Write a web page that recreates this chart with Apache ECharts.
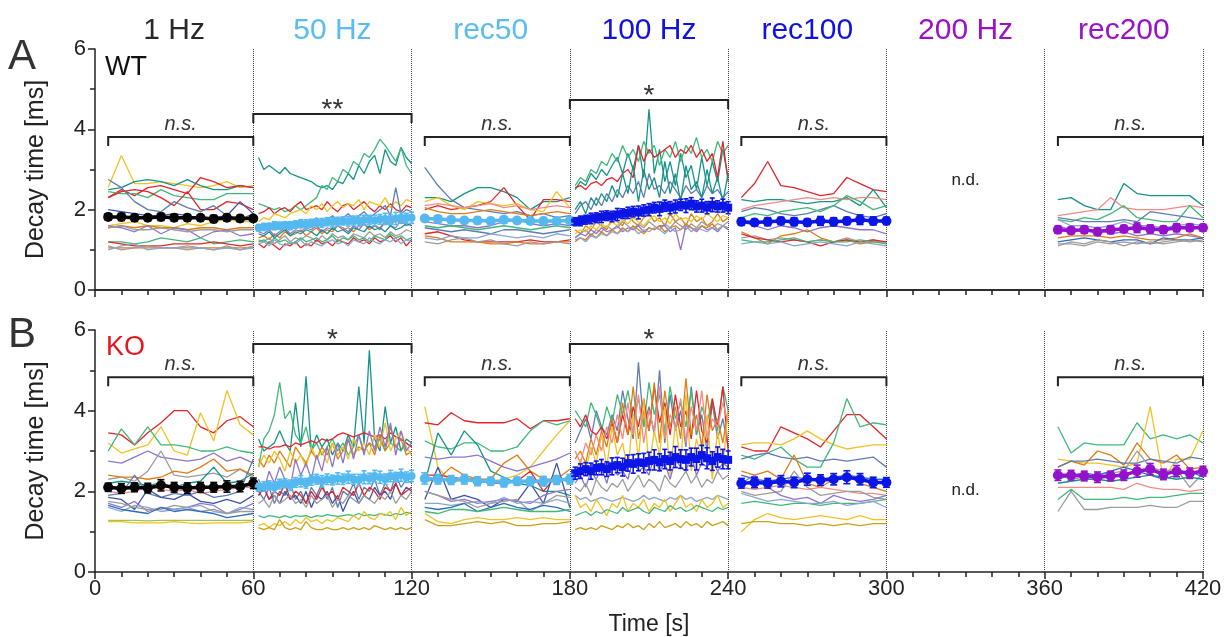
<!DOCTYPE html>
<html lang="en">
<head>
  <meta charset="UTF-8">
  <title>Decay time WT / KO</title>
  <script src="https://cdn.jsdelivr.net/npm/echarts@6/dist/echarts.min.js"></script>
  <style>
    html, body { margin: 0; padding: 0; background: #fff; }
    #chart { width: 1230px; height: 637px; }
  </style>
</head>
<body>
<div id="chart"></div>
<script>
// ---- time grids (s, relative to segment start) ----
const sparseT = [5, 10, 15, 20, 25, 30, 35, 40, 45, 50, 55, 60];
const denseT = [2, 4, 6, 8, 10, 12, 14, 16, 18, 20, 22, 24, 26, 28, 30, 32, 34, 36, 38, 40, 42, 44, 46, 48, 50, 52, 54, 56, 58, 60];

// headers over the segments
const headers = ['1 Hz', '50 Hz', 'rec50', '100 Hz', 'rec100', '200 Hz', 'rec200'];
const headerColors = ['#2a2a2a', '#5bbcf2', '#5bbcf2', '#1212e0', '#1212e0', '#9a12c8', '#9a12c8'];

// ---------- WT ----------
const wt1Hz = [
  [2.55, 3.35, 2.65, 2.65, 2.7, 2.65, 2.6, 2.55, 2.6, 2.7, 2.55, 2.6],
  [2.5, 2.55, 2.7, 2.75, 2.7, 2.6, 2.75, 2.6, 2.5, 2.5, 2.6, 2.55],
  [2.3, 2.5, 2.35, 2.55, 2.6, 2.5, 2.4, 2.8, 2.7, 2.55, 2.6, 2.55],
  [2.45, 2.4, 2.4, 2.3, 2.5, 2.35, 2.3, 2.25, 2.25, 2.4, 2.4, 2.4],
  [2.3, 2.45, 2.5, 2.45, 2.3, 2.1, 2.45, 2.0, 2.0, 2.2, 2.15, 2.0],
  [2.75, 2.55, 2.2, 2.0, 1.95, 2.2, 2.05, 1.95, 2.1, 1.85, 1.75, 1.9],
  [2.0, 1.95, 1.9, 1.85, 1.85, 1.9, 1.85, 1.75, 1.8, 1.85, 2.2, 1.9],
  [1.6, 1.65, 1.7, 1.6, 1.6, 1.55, 1.65, 1.6, 1.7, 1.75, 1.7, 1.7],
  [1.55, 1.6, 1.55, 1.6, 1.55, 1.55, 1.5, 1.55, 1.55, 1.5, 1.55, 1.55],
  [1.6, 1.55, 1.45, 1.6, 1.4, 1.55, 1.5, 1.3, 1.45, 1.5, 1.35, 1.4],
  [1.55, 1.6, 1.5, 1.5, 1.55, 1.5, 1.45, 1.5, 1.5, 1.45, 1.5, 1.5],
  [1.2, 1.2, 1.15, 1.2, 1.3, 1.25, 1.2, 1.3, 1.15, 1.2, 1.25, 1.2],
  [1.2, 1.15, 1.1, 1.1, 1.1, 1.15, 1.15, 1.15, 1.2, 1.15, 1.1, 1.15],
  [1.05, 1.05, 1.05, 1.05, 1.05, 1.05, 1.05, 1.05, 1.05, 1.05, 1.05, 1.05],
  [1.1, 1.0, 1.05, 1.1, 1.05, 1.05, 1.0, 1.05, 1.0, 1.1, 1.0, 1.1],
  [1.0, 1.1, 1.15, 1.0, 1.05, 1.05, 1.1, 1.05, 1.0, 1.05, 1.0, 1.05]
];
const wt1HzColors = ['yellow', 'teal', 'red', 'green', 'red', 'slate', 'navy', 'yellow', 'orange', 'purple', 'grey', 'green', 'red', 'orange', 'grey', 'steel'];
const wtMean1Hz = [1.82, 1.82, 1.8, 1.8, 1.82, 1.8, 1.8, 1.8, 1.77, 1.8, 1.78, 1.78];
const wtSem1Hz = [0.08, 0.09, 0.08, 0.07, 0.09, 0.08, 0.08, 0.07, 0.09, 0.08, 0.08, 0.07];

const wt50Hz = [
  [3.3, 3.0, 3.1, 3.0, 2.9, 3.05, 2.9, 2.85, 2.8, 2.75, 2.7, 2.6, 2.55, 2.6, 2.5, 2.7, 2.65, 2.9, 2.75, 3.1, 2.9, 3.2, 3.35, 2.9, 3.5, 3.2, 3.1, 3.55, 3.3, 3.15],
  [2.15, 2.1, 2.05, 2.0, 2.05, 1.95, 2.0, 2.1, 2.0, 2.1, 2.2, 2.3, 2.6, 2.5, 2.8, 2.7, 3.0, 2.9, 3.2, 3.1, 3.4, 3.3, 3.5, 3.75, 3.6, 3.4, 3.2, 3.55, 3.1, 2.9],
  [1.9, 1.95, 2.05, 1.9, 2.0, 2.05, 1.95, 2.1, 2.2, 2.0, 2.05, 2.1, 2.0, 2.2, 2.05, 1.95, 2.1, 2.15, 2.0, 2.1, 2.2, 2.05, 1.95, 2.1, 2.0, 2.15, 2.0, 1.95, 2.1, 2.05],
  [1.7, 1.8, 1.75, 1.9, 1.85, 1.8, 1.9, 1.95, 2.0, 1.9, 2.1, 2.0, 2.15, 1.95, 2.1, 2.2, 2.05, 2.15, 2.1, 2.25, 2.0, 2.2, 2.15, 2.1, 2.3, 2.05, 2.2, 2.1, 2.25, 2.2],
  [1.55, 1.6, 1.5, 1.65, 1.6, 1.7, 1.55, 1.65, 1.75, 1.6, 1.7, 1.8, 1.65, 1.75, 1.85, 1.7, 1.8, 1.9, 1.75, 1.85, 1.95, 1.8, 1.9, 2.0, 2.1, 1.85, 2.55, 1.9, 2.0, 1.95],
  [1.3, 1.35, 1.25, 1.4, 1.3, 1.45, 1.35, 1.4, 1.5, 1.35, 1.45, 1.55, 1.4, 1.5, 1.45, 1.6, 1.5, 1.55, 1.45, 1.6, 1.65, 1.5, 1.6, 1.55, 1.7, 1.6, 1.75, 1.65, 1.7, 1.85],
  [1.45, 1.4, 1.5, 1.35, 1.45, 1.55, 1.4, 1.5, 1.45, 1.55, 1.5, 1.6, 1.45, 1.55, 1.5, 1.6, 1.55, 1.45, 1.6, 1.5, 1.65, 1.55, 1.6, 1.5, 1.7, 1.6, 1.55, 1.75, 1.6, 1.65],
  [1.25, 1.2, 1.3, 1.15, 1.25, 1.35, 1.2, 1.3, 1.25, 1.35, 1.3, 1.2, 1.35, 1.25, 1.4, 1.3, 1.35, 1.25, 1.4, 1.35, 1.3, 1.45, 1.35, 1.4, 1.3, 1.45, 1.35, 1.4, 1.5, 1.45],
  [1.15, 1.05, 1.2, 1.1, 1.0, 1.15, 1.1, 1.2, 1.05, 1.15, 1.1, 1.25, 1.15, 1.2, 1.1, 1.25, 1.2, 1.15, 1.3, 1.2, 1.25, 1.15, 1.3, 1.2, 1.25, 1.35, 1.2, 1.3, 1.1, 1.25],
  [1.2, 1.25, 1.15, 1.3, 1.2, 1.25, 1.15, 1.2, 1.3, 1.2, 1.25, 1.3, 1.2, 1.25, 1.35, 1.2, 1.3, 1.25, 1.35, 1.25, 1.3, 1.2, 1.35, 1.3, 1.25, 1.4, 1.3, 1.35, 1.25, 1.3],
  [1.15, 1.2, 1.1, 1.25, 1.15, 1.1, 1.2, 1.15, 1.25, 1.1, 1.2, 1.15, 1.1, 1.2, 1.25, 1.15, 1.2, 1.1, 1.25, 1.2, 1.15, 1.3, 1.2, 1.15, 1.25, 1.2, 1.3, 1.15, 1.25, 1.2],
  [1.4, 1.35, 1.45, 1.3, 1.4, 1.5, 1.35, 1.45, 1.4, 1.5, 1.45, 1.35, 1.5, 1.4, 1.55, 1.45, 1.5, 1.4, 1.55, 1.5, 1.45, 1.6, 1.5, 1.55, 1.45, 1.6, 1.5, 1.55, 1.65, 1.6]
];
const wt50HzColors = ['teal', 'green', 'red', 'yellow', 'slate', 'orange', 'purple', 'grey', 'red', 'green', 'steel', 'teal'];
const wtMean50Hz = [1.55, 1.57, 1.58, 1.6, 1.6, 1.62, 1.6, 1.63, 1.65, 1.64, 1.66, 1.68, 1.67, 1.7, 1.69, 1.7, 1.72, 1.71, 1.73, 1.72, 1.74, 1.75, 1.73, 1.76, 1.77, 1.75, 1.78, 1.8, 1.79, 1.8];
const wtSem50Hz = [0.08, 0.09, 0.08, 0.1, 0.09, 0.08, 0.1, 0.09, 0.1, 0.11, 0.1, 0.09, 0.11, 0.1, 0.12, 0.11, 0.1, 0.12, 0.11, 0.13, 0.12, 0.11, 0.13, 0.12, 0.14, 0.12, 0.15, 0.13, 0.12, 0.14];

const wtRec50 = [
  [3.05, 2.6, 2.25, 2.05, 2.0, 1.95, 1.9, 1.95, 1.85, 1.9, 1.8, 1.85],
  [2.3, 2.3, 2.2, 2.4, 2.55, 2.55, 2.45, 2.3, 2.0, 2.2, 2.2, 2.3],
  [2.0, 2.1, 2.0, 2.05, 2.1, 2.2, 2.55, 2.1, 1.75, 2.25, 2.25, 2.2],
  [2.2, 2.3, 2.1, 2.0, 2.2, 2.15, 2.1, 2.15, 2.0, 1.95, 2.45, 2.05],
  [2.1, 2.15, 2.1, 2.05, 2.1, 2.15, 2.05, 2.1, 2.0, 2.05, 2.1, 2.05],
  [2.05, 1.95, 1.9, 1.9, 1.95, 2.0, 1.95, 1.9, 1.85, 1.9, 1.95, 1.9],
  [1.7, 1.65, 1.6, 1.6, 1.55, 1.6, 1.7, 1.75, 1.65, 1.6, 1.65, 1.6],
  [1.6, 1.55, 1.6, 1.55, 1.5, 1.55, 1.6, 1.55, 1.5, 1.55, 1.6, 1.55],
  [1.55, 1.5, 1.45, 1.5, 1.45, 1.4, 1.5, 1.5, 1.45, 1.4, 1.45, 1.5],
  [1.4, 1.45, 1.35, 1.25, 1.2, 1.2, 1.2, 1.2, 1.25, 1.2, 1.2, 1.25],
  [1.35, 1.3, 1.2, 1.2, 1.2, 1.15, 1.15, 1.2, 1.15, 1.15, 1.2, 1.2],
  [1.2, 1.15, 1.25, 1.3, 1.2, 1.25, 1.15, 1.1, 1.2, 1.15, 1.2, 1.15],
  [1.3, 1.25, 1.35, 1.3, 1.3, 1.4, 1.35, 1.3, 1.35, 1.3, 1.4, 1.35]
];
const wtRec50Colors = ['slate', 'teal', 'red', 'yellow', 'pink', 'orange', 'purple', 'green', 'slate', 'red', 'orange', 'grey', 'steel'];
const wtMeanRec50 = [1.78, 1.77, 1.75, 1.73, 1.73, 1.72, 1.75, 1.73, 1.72, 1.72, 1.72, 1.73];
const wtSemRec50 = [0.07, 0.08, 0.07, 0.07, 0.08, 0.07, 0.08, 0.07, 0.07, 0.08, 0.07, 0.07];

const wt100Hz = [
  [2.5, 2.7, 2.6, 2.9, 2.75, 3.0, 2.85, 3.1, 3.3, 2.9, 3.4, 3.0, 3.6, 2.8, 4.5, 2.9, 3.5, 2.7, 3.2, 2.6, 3.4, 2.8, 3.1, 2.5, 3.3, 2.6, 3.2, 2.7, 3.5, 2.8],
  [2.6, 2.8, 2.7, 3.0, 2.9, 3.2, 3.1, 3.4, 3.2, 3.6, 3.3, 3.5, 3.2, 3.7, 3.4, 3.6, 3.1, 3.5, 3.3, 3.7, 3.2, 3.6, 3.4, 3.8, 3.3, 3.5, 3.2, 3.7, 3.4, 3.6],
  [2.55, 2.6, 2.5, 2.65, 2.7, 2.6, 2.75, 2.8, 2.7, 2.9, 3.0, 2.8, 3.6, 3.2, 3.5, 3.3, 3.4, 3.5, 3.6, 3.3, 3.5, 3.4, 3.6, 3.3, 3.5, 3.2, 3.4, 2.8, 3.7, 2.7],
  [1.9, 2.1, 2.2, 2.0, 2.3, 2.1, 2.4, 2.2, 2.5, 2.3, 2.6, 2.4, 2.7, 2.3, 2.9, 2.5, 2.6, 2.4, 2.7, 2.5, 2.3, 2.6, 2.4, 2.5, 2.3, 2.6, 2.4, 2.5, 2.3, 2.45],
  [2.0, 2.2, 1.9, 2.3, 2.1, 2.4, 2.2, 2.6, 2.3, 2.9, 2.4, 3.1, 2.2, 3.0, 2.5, 2.8, 2.3, 3.2, 2.4, 2.9, 2.2, 3.1, 2.5, 2.7, 2.3, 3.0, 2.4, 2.8, 2.2, 2.9],
  [1.5, 1.4, 1.6, 1.5, 1.7, 1.6, 1.5, 1.8, 1.7, 1.6, 1.9, 1.7, 1.6, 1.8, 1.9, 1.7, 1.8, 1.6, 1.9, 1.7, 1.8, 1.6, 1.9, 1.7, 1.8, 1.6, 1.7, 1.9, 1.7, 1.8],
  [1.3, 1.4, 1.5, 1.35, 1.5, 1.45, 1.6, 1.5, 1.55, 1.7, 1.6, 1.5, 1.65, 1.55, 1.7, 1.6, 1.5, 1.65, 1.55, 1.7, 1.6, 1.5, 1.65, 1.55, 1.7, 1.6, 1.55, 1.65, 1.6, 1.7],
  [1.3, 1.4, 1.35, 1.5, 1.4, 1.55, 1.45, 1.5, 1.6, 1.45, 1.55, 1.5, 1.6, 1.45, 1.55, 1.5, 1.6, 1.6, 1.45, 1.55, 1.0, 1.6, 1.55, 1.45, 1.6, 1.5, 1.55, 1.45, 1.6, 1.5],
  [1.4, 1.5, 1.45, 1.6, 1.5, 1.65, 1.55, 1.7, 1.6, 1.75, 1.65, 1.8, 1.7, 1.6, 1.75, 1.85, 1.7, 1.8, 1.65, 1.9, 1.75, 1.8, 1.7, 1.85, 1.75, 1.9, 1.8, 1.7, 1.85, 1.8],
  [1.2, 1.3, 1.25, 1.4, 1.3, 1.45, 1.35, 1.5, 1.4, 1.55, 1.45, 1.6, 1.5, 1.4, 1.55, 1.5, 1.6, 1.45, 1.55, 1.6, 1.5, 1.65, 1.55, 1.5, 1.6, 1.55, 1.65, 1.5, 1.6, 1.55],
  [1.25, 1.3, 1.2, 1.35, 1.3, 1.4, 1.35, 1.45, 1.4, 1.5, 1.45, 1.55, 1.4, 1.5, 1.45, 1.55, 1.5, 1.4, 1.55, 1.45, 1.5, 1.6, 1.45, 1.55, 1.5, 1.45, 1.55, 1.5, 1.6, 1.55]
];
const wt100HzColors = ['teal', 'green', 'red', 'slate', 'teal', 'orange', 'grey', 'purple', 'yellow', 'orange', 'steel'];
const wtMean100Hz = [1.7, 1.72, 1.75, 1.78, 1.8, 1.82, 1.85, 1.83, 1.88, 1.9, 1.92, 1.95, 1.93, 1.98, 2.0, 2.05, 2.02, 2.1, 2.05, 2.08, 2.12, 2.1, 2.15, 2.08, 2.1, 2.05, 2.12, 2.08, 2.1, 2.05];
const wtSem100Hz = [0.1, 0.12, 0.11, 0.13, 0.12, 0.14, 0.12, 0.13, 0.15, 0.12, 0.14, 0.13, 0.16, 0.14, 0.15, 0.13, 0.17, 0.14, 0.15, 0.16, 0.14, 0.17, 0.15, 0.14, 0.16, 0.15, 0.17, 0.14, 0.16, 0.15];

const wtRec100 = [
  [2.3, 2.65, 3.2, 2.6, 2.55, 2.45, 2.35, 2.4, 2.8, 2.65, 2.5, 2.45],
  [2.25, 2.2, 2.25, 2.25, 2.2, 2.15, 2.2, 2.2, 2.3, 2.1, 2.5, 2.05],
  [2.0, 2.1, 2.15, 2.2, 2.25, 2.3, 2.25, 2.3, 2.25, 2.3, 2.3, 2.25],
  [1.95, 2.05, 2.0, 1.9, 1.85, 1.9, 2.0, 2.1, 1.95, 1.85, 1.8, 1.9],
  [1.8, 1.9, 1.85, 1.95, 2.0, 2.05, 1.95, 2.1, 2.35, 2.2, 2.0, 2.1],
  [1.7, 1.6, 1.5, 1.6, 1.55, 1.45, 1.55, 1.6, 1.55, 1.5, 1.5, 1.4],
  [1.45, 1.3, 1.15, 1.35, 1.4, 1.5, 1.3, 1.2, 1.25, 1.15, 1.2, 1.2],
  [1.3, 1.35, 1.25, 1.3, 1.25, 1.2, 1.25, 1.2, 1.3, 1.2, 1.25, 1.15],
  [1.4, 1.3, 1.25, 1.2, 1.25, 1.2, 1.1, 1.2, 1.25, 1.2, 1.25, 1.2],
  [1.25, 1.2, 1.2, 1.25, 1.3, 1.2, 1.25, 1.2, 1.2, 1.25, 1.2, 1.15],
  [1.15, 1.2, 1.15, 1.2, 1.1, 1.15, 1.2, 1.15, 1.1, 1.2, 1.15, 1.1]
];
const wtRec100Colors = ['red', 'teal', 'pink', 'slate', 'green', 'purple', 'orange', 'grey', 'red', 'green', 'steel'];
const wtMeanRec100 = [1.7, 1.68, 1.7, 1.72, 1.7, 1.68, 1.72, 1.7, 1.72, 1.75, 1.72, 1.72];
const wtSemRec100 = [0.09, 0.08, 0.1, 0.09, 0.1, 0.09, 0.11, 0.1, 0.09, 0.12, 0.1, 0.09];

const wtRec200 = [
  [2.25, 2.3, 2.1, 2.0, 2.0, 2.65, 2.4, 2.35, 2.35, 2.35, 2.35, 2.1],
  [1.85, 1.9, 1.95, 2.0, 2.3, 2.05, 2.0, 2.0, 2.0, 2.05, 2.1, 2.05],
  [1.75, 1.7, 1.8, 1.75, 1.9, 2.1, 1.8, 1.75, 1.7, 1.7, 2.1, 1.8],
  [1.8, 1.75, 1.7, 1.7, 1.7, 1.75, 1.7, 1.95, 1.9, 1.85, 1.8, 1.75],
  [1.75, 1.6, 1.6, 1.55, 1.6, 1.7, 1.6, 1.6, 1.55, 1.6, 1.65, 1.6],
  [1.6, 1.5, 1.45, 1.5, 1.4, 1.45, 1.35, 1.4, 1.35, 1.4, 1.35, 1.3],
  [1.3, 1.35, 1.35, 1.35, 1.3, 1.35, 1.3, 1.25, 1.25, 1.3, 1.4, 1.3],
  [1.2, 1.25, 1.3, 1.25, 1.2, 1.25, 1.25, 1.15, 1.3, 1.25, 1.25, 1.3],
  [1.1, 1.2, 1.15, 1.25, 1.2, 1.1, 1.2, 1.15, 1.2, 1.25, 1.2, 1.25],
  [1.15, 1.15, 1.1, 1.2, 1.15, 1.2, 1.15, 1.2, 1.15, 1.2, 1.25, 1.2]
];
const wtRec200Colors = ['teal', 'pink', 'green', 'slate', 'steel', 'purple', 'orange', 'blue', 'grey', 'grey'];
const wtMeanRec200 = [1.5, 1.48, 1.5, 1.45, 1.5, 1.52, 1.55, 1.52, 1.5, 1.55, 1.55, 1.55];
const wtSemRec200 = [0.09, 0.08, 0.09, 0.08, 0.1, 0.09, 0.12, 0.1, 0.09, 0.1, 0.09, 0.08];

// ---------- KO ----------
const ko1Hz = [
  [3.45, 3.4, 3.15, 3.45, 3.7, 4.0, 4.0, 3.6, 3.45, 3.75, 3.85, 3.6],
  [3.2, 2.95, 3.05, 3.15, 3.6, 3.0, 2.9, 3.95, 3.25, 4.5, 3.65, 3.4],
  [3.0, 3.55, 3.15, 3.6, 3.15, 3.15, 3.1, 3.0, 3.0, 3.1, 3.0, 2.95],
  [2.75, 2.7, 2.85, 3.0, 2.85, 2.8, 2.75, 2.8, 2.95, 2.75, 2.85, 2.7],
  [2.3, 2.35, 2.25, 2.5, 3.0, 2.4, 2.35, 2.4, 2.45, 2.35, 2.55, 2.35],
  [2.4, 2.35, 2.35, 2.3, 2.35, 2.5, 2.45, 2.6, 2.8, 2.5, 2.55, 2.4],
  [2.2, 2.25, 2.2, 2.15, 2.2, 2.1, 2.2, 2.25, 2.6, 2.2, 2.25, 2.45],
  [2.0, 1.95, 2.0, 2.1, 2.05, 2.0, 2.05, 1.95, 2.0, 2.05, 2.1, 2.1],
  [1.9, 1.95, 2.4, 1.95, 1.85, 1.95, 1.9, 2.0, 1.85, 1.9, 2.0, 2.8],
  [1.85, 1.8, 1.55, 2.05, 1.85, 1.8, 1.95, 1.75, 1.7, 1.8, 1.7, 1.9],
  [1.7, 1.6, 1.75, 1.5, 1.6, 1.55, 1.6, 1.7, 1.65, 1.45, 1.55, 1.7],
  [1.6, 1.5, 1.65, 1.6, 1.5, 1.55, 1.6, 1.65, 1.5, 1.45, 1.6, 1.55],
  [1.75, 1.7, 1.6, 1.55, 1.55, 1.65, 1.6, 1.5, 1.55, 1.45, 1.5, 1.5],
  [1.65, 1.55, 1.5, 1.45, 1.6, 1.5, 1.55, 1.5, 1.45, 1.35, 1.4, 1.45],
  [1.28, 1.28, 1.28, 1.27, 1.28, 1.28, 1.28, 1.28, 1.28, 1.28, 1.28, 1.28],
  [1.25, 1.25, 1.22, 1.22, 1.22, 1.25, 1.22, 1.2, 1.22, 1.22, 1.22, 1.25]
];
const ko1HzColors = ['red', 'yellow', 'green', 'purple', 'grey', 'orange', 'teal', 'pink', 'slate', 'navy', 'purple', 'steel', 'grey', 'blue', 'olive', 'yellow'];
const koMean1Hz = [2.1, 2.07, 2.1, 2.08, 2.15, 2.1, 2.08, 2.1, 2.1, 2.12, 2.12, 2.2];
const koSem1Hz = [0.1, 0.12, 0.11, 0.12, 0.14, 0.12, 0.13, 0.12, 0.12, 0.14, 0.13, 0.13];

const ko50Hz = [
  [3.3, 3.0, 3.1, 3.2, 3.5, 3.2, 3.0, 4.2, 3.1, 4.85, 3.0, 3.4, 3.1, 3.3, 2.9, 3.2, 3.0, 3.4, 3.1, 4.6, 3.2, 5.5, 3.3, 3.0, 4.1, 3.2, 3.6, 3.0, 3.3, 3.2],
  [2.6, 3.3, 3.5, 3.9, 4.7, 3.8, 4.0, 3.4, 3.2, 3.6, 3.0, 3.2, 2.9, 3.1, 3.3, 3.0, 3.2, 2.9, 3.1, 3.4, 3.0, 3.2, 3.1, 3.3, 3.0, 3.2, 3.1, 3.0, 3.2, 3.1],
  [3.1, 3.1, 3.05, 3.1, 3.1, 3.15, 3.1, 3.2, 3.15, 3.2, 3.25, 3.2, 3.3, 3.25, 3.3, 3.4, 3.45, 3.4, 3.35, 3.4, 3.45, 3.4, 3.35, 3.4, 3.3, 3.45, 3.35, 3.3, 3.2, 3.1],
  [2.8, 2.6, 2.9, 2.7, 3.0, 2.8, 2.6, 3.1, 2.9, 2.7, 3.0, 2.8, 3.1, 2.9, 3.2, 2.8, 3.0, 3.3, 2.9, 3.1, 3.0, 3.2, 2.9, 3.4, 3.0, 3.6, 3.1, 3.3, 2.9, 3.0],
  [2.6, 2.9, 2.7, 3.0, 2.8, 2.5, 3.0, 2.7, 2.9, 2.6, 3.1, 2.8, 3.0, 2.7, 3.2, 2.9, 3.1, 2.8, 3.3, 3.0, 3.2, 2.9, 3.4, 3.1, 3.7, 3.0, 3.3, 3.5, 3.1, 2.9],
  [2.3, 2.0, 2.5, 2.2, 2.6, 2.3, 2.1, 2.8, 2.4, 2.7, 2.3, 2.9, 2.5, 3.1, 2.6, 3.2, 2.7, 3.3, 2.8, 3.4, 2.9, 3.5, 3.0, 3.6, 3.1, 3.7, 2.9, 3.5, 3.0, 3.2],
  [2.0, 1.8, 2.1, 1.7, 2.0, 1.9, 2.2, 1.8, 2.0, 1.7, 2.1, 1.9, 2.2, 1.8, 2.1, 1.6, 2.0, 1.9, 2.2, 1.8, 2.1, 2.0, 2.3, 1.9, 2.2, 2.0, 2.4, 2.1, 2.3, 2.2],
  [1.9, 2.1, 1.8, 1.9, 1.7, 2.0, 1.8, 1.9, 1.7, 2.0, 1.6, 1.9, 1.8, 2.0, 1.7, 1.9, 1.5, 1.8, 2.0, 1.7, 1.9, 1.8, 2.1, 1.9, 2.0, 1.8, 2.2, 1.9, 2.1, 2.0],
  [1.9, 2.1, 1.8, 2.0, 1.9, 2.2, 1.8, 2.0, 1.9, 1.7, 2.0, 1.8, 2.1, 1.9, 2.0, 1.8, 2.1, 2.0, 1.9, 2.2, 1.9, 2.1, 2.0, 1.8, 2.1, 2.0, 2.2, 1.9, 2.0, 2.1],
  [1.7, 1.8, 1.6, 1.9, 1.7, 1.8, 1.9, 1.7, 1.8, 1.6, 1.9, 1.7, 1.8, 1.9, 1.6, 1.8, 1.7, 1.9, 1.8, 1.7, 1.9, 1.8, 1.7, 1.9, 1.8, 2.0, 1.7, 1.9, 1.8, 2.0],
  [1.4, 1.35, 1.4, 1.38, 1.35, 1.4, 1.35, 1.4, 1.38, 1.4, 1.35, 1.4, 1.38, 1.42, 1.4, 1.38, 1.4, 1.42, 1.4, 1.45, 1.4, 1.42, 1.4, 1.45, 1.42, 1.4, 1.45, 1.42, 1.48, 1.45],
  [1.15, 1.2, 1.1, 1.2, 1.15, 1.25, 1.15, 1.3, 1.2, 1.35, 1.25, 1.3, 1.2, 1.3, 1.25, 1.35, 1.3, 1.25, 1.4, 1.3, 1.5, 1.35, 1.3, 1.45, 1.4, 1.5, 1.3, 1.6, 1.4, 1.5],
  [1.1, 1.05, 1.1, 1.05, 1.3, 1.1, 1.05, 1.1, 1.05, 1.25, 1.1, 1.05, 1.05, 1.1, 1.05, 1.05, 1.1, 1.05, 1.1, 1.05, 1.1, 1.05, 1.15, 1.1, 1.05, 1.1, 1.05, 1.1, 1.05, 1.1]
];
const ko50HzColors = ['teal', 'green', 'red', 'orange', 'yellow', 'purple', 'slate', 'navy', 'red', 'grey', 'green', 'yellow', 'gold'];
const koMean50Hz = [2.1, 2.12, 2.15, 2.1, 2.18, 2.2, 2.15, 2.22, 2.25, 2.2, 2.28, 2.3, 2.25, 2.3, 2.28, 2.32, 2.3, 2.35, 2.3, 2.28, 2.35, 2.32, 2.38, 2.35, 2.3, 2.38, 2.35, 2.4, 2.35, 2.38];
const koSem50Hz = [0.1, 0.12, 0.11, 0.13, 0.12, 0.11, 0.13, 0.12, 0.14, 0.12, 0.13, 0.12, 0.14, 0.13, 0.12, 0.14, 0.13, 0.15, 0.12, 0.14, 0.16, 0.13, 0.14, 0.15, 0.13, 0.14, 0.12, 0.15, 0.13, 0.14];

const koRec50 = [
  [4.1, 2.6, 2.2, 2.3, 2.3, 2.25, 2.3, 2.4, 2.6, 3.0, 3.4, 3.75],
  [3.7, 3.65, 3.95, 3.75, 3.7, 3.7, 3.7, 3.8, 3.55, 3.75, 3.75, 3.8],
  [3.25, 3.1, 3.05, 3.2, 3.2, 3.0, 3.0, 3.1, 3.5, 3.75, 3.65, 3.75],
  [2.2, 3.45, 2.9, 3.5, 3.15, 2.5, 2.35, 2.2, 2.15, 2.0, 2.0, 1.9],
  [2.85, 2.8, 2.85, 2.85, 2.9, 2.75, 2.6, 2.5, 2.6, 2.7, 2.8, 2.95],
  [2.25, 2.3, 2.6, 2.4, 2.3, 2.3, 2.7, 2.9, 2.5, 2.3, 2.3, 2.55],
  [2.4, 2.4, 2.35, 2.3, 2.3, 2.2, 2.2, 2.25, 2.5, 2.0, 2.4, 2.2],
  [1.8, 2.6, 1.8, 1.9, 1.8, 1.6, 1.8, 1.75, 2.2, 1.7, 2.7, 1.6],
  [2.0, 1.9, 1.75, 1.8, 1.7, 1.75, 1.8, 1.75, 1.7, 1.9, 2.0, 2.05],
  [1.7, 1.7, 1.65, 1.7, 1.75, 1.7, 1.85, 1.7, 1.75, 1.7, 1.8, 1.7],
  [2.0, 1.9, 1.8, 1.75, 1.6, 1.7, 1.75, 1.8, 1.5, 1.7, 1.9, 1.85],
  [1.6, 1.55, 1.6, 1.7, 1.5, 1.6, 1.7, 1.6, 1.55, 1.65, 1.6, 1.5],
  [1.5, 1.45, 1.55, 1.55, 1.5, 1.55, 1.6, 1.55, 1.5, 1.5, 1.5, 1.55],
  [1.45, 1.25, 1.2, 1.3, 1.35, 1.3, 1.3, 1.35, 1.3, 1.35, 1.3, 1.3],
  [1.3, 1.15, 1.15, 1.2, 1.25, 1.2, 1.25, 1.15, 1.15, 1.2, 1.2, 1.25]
];
const koRec50Colors = ['yellow', 'red', 'green', 'teal', 'purple', 'orange', 'red', 'navy', 'purple', 'steel', 'grey', 'blue', 'green', 'yellow', 'gold'];
const koMeanRec50 = [2.32, 2.3, 2.28, 2.3, 2.25, 2.25, 2.22, 2.25, 2.25, 2.25, 2.28, 2.3];
const koSemRec50 = [0.14, 0.12, 0.11, 0.12, 0.11, 0.1, 0.11, 0.1, 0.11, 0.12, 0.11, 0.12];

const ko100Hz = [
  [3.2, 3.5, 3.8, 3.3, 4.0, 3.6, 3.4, 3.9, 3.5, 4.5, 3.8, 3.3, 5.2, 3.6, 4.1, 3.4, 5.0, 3.2, 4.4, 3.5, 4.0, 3.1, 4.6, 3.4, 3.9, 3.0, 4.2, 3.3, 3.8, 3.1],
  [4.0, 3.8, 3.6, 4.2, 3.9, 3.5, 4.1, 3.7, 4.4, 3.9, 4.5, 3.8, 4.3, 3.6, 4.7, 3.9, 4.4, 3.5, 4.6, 3.8, 4.2, 3.6, 4.5, 3.4, 4.1, 3.7, 4.3, 3.5, 4.6, 4.0],
  [3.8, 3.6, 3.9, 3.5, 3.4, 3.6, 3.3, 3.7, 3.2, 3.9, 3.4, 4.1, 3.6, 4.3, 3.5, 4.6, 3.7, 4.2, 3.4, 4.4, 3.6, 4.0, 3.3, 4.5, 3.5, 3.2, 4.3, 3.6, 4.6, 3.0],
  [2.8, 3.0, 2.7, 3.3, 2.9, 3.5, 3.1, 3.8, 3.2, 4.2, 3.4, 4.6, 3.3, 4.0, 3.5, 4.7, 3.2, 4.5, 3.6, 4.1, 3.3, 4.8, 3.4, 3.9, 3.1, 4.4, 3.5, 3.8, 3.2, 4.0],
  [2.4, 2.8, 2.5, 3.1, 2.7, 3.4, 2.6, 3.6, 2.9, 3.2, 2.5, 3.9, 2.8, 4.3, 2.6, 3.5, 2.9, 4.1, 2.4, 3.7, 2.7, 4.4, 2.5, 3.3, 2.8, 3.9, 2.3, 3.5, 2.6, 4.0],
  [3.0, 2.7, 3.2, 2.9, 3.4, 3.0, 3.6, 3.2, 3.9, 3.3, 4.2, 3.4, 4.4, 3.2, 4.0, 3.5, 4.6, 3.3, 3.9, 3.6, 4.3, 3.2, 4.1, 3.5, 4.5, 3.3, 3.8, 3.6, 4.2, 3.7],
  [2.2, 2.4, 2.1, 2.5, 2.3, 2.6, 2.2, 2.7, 2.4, 2.5, 2.3, 2.8, 2.5, 2.6, 2.4, 2.9, 2.5, 2.7, 2.3, 2.8, 2.6, 2.5, 2.9, 2.4, 2.7, 2.6, 2.8, 2.5, 2.7, 2.6],
  [2.1, 2.0, 2.2, 1.9, 2.3, 2.1, 2.0, 2.2, 2.1, 2.3, 2.0, 2.2, 2.4, 2.1, 2.3, 2.2, 2.0, 2.4, 2.2, 2.1, 2.3, 2.5, 2.2, 2.4, 2.1, 2.3, 2.2, 2.5, 2.3, 2.4],
  [1.9, 1.8, 1.85, 1.75, 1.8, 1.85, 1.8, 1.75, 1.8, 1.85, 1.8, 1.75, 1.8, 1.9, 1.8, 1.85, 1.8, 1.75, 1.85, 1.8, 1.9, 1.8, 1.85, 1.75, 1.8, 1.85, 1.8, 1.9, 1.85, 1.8],
  [1.9, 1.6, 1.7, 1.5, 1.8, 1.6, 1.4, 1.7, 1.6, 1.9, 1.5, 1.7, 1.6, 1.8, 1.5, 1.7, 1.6, 1.8, 1.5, 1.7, 1.9, 1.6, 1.7, 1.5, 1.8, 1.6, 1.7, 1.9, 1.6, 1.7],
  [1.4, 1.45, 1.5, 1.4, 1.5, 1.45, 1.55, 1.5, 1.45, 1.6, 1.5, 1.55, 1.6, 1.5, 1.45, 1.6, 1.55, 1.5, 1.65, 1.55, 1.6, 1.5, 1.55, 1.65, 1.6, 1.55, 1.5, 1.6, 1.55, 1.6],
  [1.05, 1.1, 1.05, 1.1, 1.05, 1.15, 1.1, 1.05, 1.15, 1.1, 1.2, 1.1, 1.15, 1.05, 1.2, 1.1, 1.25, 1.1, 1.15, 1.2, 1.1, 1.25, 1.15, 1.2, 1.1, 1.25, 1.15, 1.2, 1.25, 1.15]
];
const ko100HzColors = ['slate', 'green', 'red', 'orange', 'yellow', 'pink', 'purple', 'grey', 'steel', 'yellow', 'green', 'gold'];
const koMean100Hz = [2.45, 2.5, 2.55, 2.5, 2.58, 2.6, 2.55, 2.62, 2.65, 2.6, 2.7, 2.68, 2.72, 2.7, 2.75, 2.78, 2.72, 2.8, 2.75, 2.85, 2.8, 2.78, 2.85, 2.8, 2.9, 2.82, 2.75, 2.85, 2.8, 2.78];
const koSem100Hz = [0.15, 0.18, 0.16, 0.2, 0.17, 0.19, 0.18, 0.21, 0.19, 0.22, 0.2, 0.23, 0.21, 0.24, 0.22, 0.25, 0.21, 0.24, 0.22, 0.26, 0.23, 0.25, 0.22, 0.27, 0.24, 0.26, 0.23, 0.25, 0.24, 0.22];

const koRec100 = [
  [3.1, 3.0, 3.0, 3.6, 3.45, 3.3, 3.1, 3.5, 3.9, 3.9, 3.6, 3.3],
  [3.15, 3.2, 3.2, 3.15, 3.3, 3.5, 3.3, 3.15, 3.05, 3.1, 3.15, 3.15],
  [2.9, 2.8, 2.95, 3.1, 2.8, 2.6, 2.6, 3.2, 4.3, 3.6, 3.7, 3.65],
  [2.8, 2.9, 2.95, 2.85, 2.8, 2.85, 2.75, 2.8, 2.75, 2.8, 2.85, 2.6],
  [2.5, 2.4, 2.5, 2.3, 2.9, 2.2, 2.1, 2.3, 2.4, 2.2, 2.1, 2.0],
  [2.4, 2.3, 2.25, 2.3, 2.35, 2.3, 2.3, 2.35, 2.4, 2.35, 2.3, 2.3],
  [2.1, 2.05, 2.1, 2.15, 2.1, 2.05, 2.1, 2.05, 2.0, 1.95, 1.95, 1.9],
  [2.0, 1.9, 1.95, 2.0, 2.5, 2.1, 1.9, 1.95, 2.0, 2.0, 1.85, 1.8],
  [2.2, 2.4, 2.1, 1.9, 1.8, 1.85, 1.7, 1.9, 1.8, 1.75, 1.8, 1.9],
  [1.7, 1.75, 1.7, 1.65, 1.7, 1.7, 1.65, 1.7, 1.7, 1.7, 1.75, 1.8],
  [1.95, 1.85, 1.75, 1.8, 1.75, 1.7, 1.7, 1.75, 1.65, 1.7, 1.75, 1.6],
  [1.0, 1.3, 1.45, 1.35, 1.3, 1.35, 1.4, 1.35, 1.3, 1.4, 1.3, 1.3],
  [1.2, 1.25, 1.25, 1.2, 1.2, 1.15, 1.2, 1.15, 1.2, 1.15, 1.2, 1.2]
];
const koRec100Colors = ['red', 'yellow', 'green', 'slate', 'orange', 'blue', 'pink', 'grey', 'purple', 'green', 'steel', 'yellow', 'gold'];
const koMeanRec100 = [2.2, 2.22, 2.2, 2.25, 2.22, 2.3, 2.28, 2.3, 2.35, 2.3, 2.22, 2.22];
const koSemRec100 = [0.12, 0.13, 0.12, 0.14, 0.13, 0.15, 0.13, 0.14, 0.16, 0.14, 0.13, 0.12];

const koRec200 = [
  [3.6, 2.95, 3.2, 3.15, 3.15, 3.15, 3.7, 3.3, 3.4, 3.3, 3.4, 3.2],
  [2.8, 2.75, 2.7, 2.7, 2.65, 2.6, 2.7, 4.1, 2.3, 2.8, 2.8, 3.5],
  [2.6, 2.75, 2.65, 3.0, 2.9, 2.65, 3.2, 2.8, 2.7, 2.9, 2.55, 2.6],
  [2.6, 2.75, 2.75, 2.8, 2.75, 2.7, 2.7, 2.8, 2.75, 2.7, 2.85, 2.8],
  [2.4, 2.3, 2.35, 2.4, 2.45, 2.5, 3.0, 2.6, 2.5, 2.55, 2.1, 2.45],
  [2.1, 2.1, 2.1, 2.1, 2.1, 2.05, 2.2, 2.1, 2.05, 2.05, 2.0, 2.05],
  [2.3, 2.4, 2.45, 2.4, 2.5, 2.6, 2.5, 2.4, 2.3, 2.4, 2.5, 2.35],
  [2.2, 2.25, 2.3, 2.3, 2.25, 2.3, 2.35, 2.4, 2.35, 2.3, 2.35, 2.3],
  [1.8, 2.05, 1.8, 1.8, 1.8, 1.85, 1.8, 1.85, 1.85, 1.9, 1.95, 1.95],
  [1.5, 2.0, 1.55, 1.55, 1.6, 1.6, 1.6, 1.65, 1.6, 1.6, 1.75, 1.75]
];
const koRec200Colors = ['green', 'yellow', 'orange', 'slate', 'grey', 'pink', 'blue', 'teal', 'green', 'grey'];
const koMeanRec200 = [2.4, 2.4, 2.38, 2.35, 2.38, 2.4, 2.5, 2.55, 2.42, 2.5, 2.45, 2.5];
const koSemRec200 = [0.13, 0.12, 0.12, 0.13, 0.12, 0.13, 0.15, 0.14, 0.13, 0.14, 0.13, 0.12];

// significance brackets: [from, to, height]
const wtBrackets = [[5, 60, 3.81], [60, 120, 4.38], [125, 180, 3.81], [180, 240, 4.73], [245, 300, 3.81], [365, 420, 3.81]];
const wtBracketLabels = ['n.s.', '**', 'n.s.', '*', 'n.s.', 'n.s.'];
const koBrackets = [[5, 60, 4.83], [60, 120, 5.65], [125, 180, 4.83], [180, 240, 5.65], [245, 300, 4.83], [365, 420, 4.83]];
const koBracketLabels = ['n.s.', '*', 'n.s.', '*', 'n.s.', 'n.s.'];

const separators = [60, 120, 180, 240, 300, 360, 420];

// ---------- styles ----------
const FONT = 'Arial, "Liberation Sans", Helvetica, sans-serif';
const palette = {
  red: '#e3262a', teal: '#149488', green: '#41b87a', yellow: '#f0c224', orange: '#dd7d18',
  slate: '#5f7cb2', purple: '#8d75cc', grey: '#9c9c9c', pink: '#f28a86', gold: '#c8a21c',
  steel: '#8aa6cf', navy: '#3d52a8', blue: '#2c6cbf', olive: '#a4c24c'
};
const C_BLACK = '#050505', C_LBLUE = '#55b9f0', C_BLUE = '#0b16e6', C_PURPLE = '#9412cc';

function seg(start, t, traces, colors, mean, sem, color, kind) {
  return { start, t, traces, colors, mean, sem, color, kind };
}
const wtSegs = [
  seg(0, sparseT, wt1Hz, wt1HzColors, wtMean1Hz, wtSem1Hz, C_BLACK, 'sparse'),
  seg(60, denseT, wt50Hz, wt50HzColors, wtMean50Hz, wtSem50Hz, C_LBLUE, 'dense'),
  seg(120, sparseT, wtRec50, wtRec50Colors, wtMeanRec50, wtSemRec50, C_LBLUE, 'sparse'),
  seg(180, denseT, wt100Hz, wt100HzColors, wtMean100Hz, wtSem100Hz, C_BLUE, 'dense'),
  seg(240, sparseT, wtRec100, wtRec100Colors, wtMeanRec100, wtSemRec100, C_BLUE, 'sparse'),
  seg(360, sparseT, wtRec200, wtRec200Colors, wtMeanRec200, wtSemRec200, C_PURPLE, 'sparse')
];
const koSegs = [
  seg(0, sparseT, ko1Hz, ko1HzColors, koMean1Hz, koSem1Hz, C_BLACK, 'sparse'),
  seg(60, denseT, ko50Hz, ko50HzColors, koMean50Hz, koSem50Hz, C_LBLUE, 'dense'),
  seg(120, sparseT, koRec50, koRec50Colors, koMeanRec50, koSemRec50, C_LBLUE, 'sparse'),
  seg(180, denseT, ko100Hz, ko100HzColors, koMean100Hz, koSem100Hz, C_BLUE, 'dense'),
  seg(240, sparseT, koRec100, koRec100Colors, koMeanRec100, koSemRec100, C_BLUE, 'sparse'),
  seg(360, sparseT, koRec200, koRec200Colors, koMeanRec200, koSemRec200, C_PURPLE, 'sparse')
];

function errorBars(xi, yi, s) {
  const cap = s.kind === 'dense' ? 2.5 : 3.5;
  return {
    type: 'custom', xAxisIndex: xi, yAxisIndex: yi, silent: true, z: 6,
    data: s.mean.map((v, i) => [s.start + s.t[i], v, s.sem[i]]),
    encode: { x: 0, y: 1 },
    renderItem: function (params, api) {
      const x = api.value(0), m = api.value(1), e = api.value(2);
      const top = api.coord([x, m + e]), bot = api.coord([x, m - e]);
      const st = { stroke: s.color, lineWidth: 1.6 };
      return {
        type: 'group', children: [
          { type: 'line', shape: { x1: top[0], y1: top[1], x2: bot[0], y2: bot[1] }, style: st },
          { type: 'line', shape: { x1: top[0] - cap, y1: top[1], x2: top[0] + cap, y2: top[1] }, style: st },
          { type: 'line', shape: { x1: bot[0] - cap, y1: bot[1], x2: bot[0] + cap, y2: bot[1] }, style: st }
        ]
      };
    }
  };
}

function bracketSeries(xi, yi, rows, labels) {
  return {
    type: 'custom', xAxisIndex: xi, yAxisIndex: yi, silent: true, z: 8,
    data: rows,
    encode: { x: [0, 1], y: 2 },
    renderItem: function (params, api) {
      const a = api.coord([api.value(0), api.value(2)]);
      const b = api.coord([api.value(1), api.value(2)]);
      const drop = 9;
      const lbl = labels[params.dataIndex];
      const ns = lbl === 'n.s.';
      return {
        type: 'group', children: [
          { type: 'polyline', shape: { points: [[a[0], a[1] + drop], [a[0], a[1]], [b[0], b[1]], [b[0], b[1] + drop]] },
            style: { stroke: '#222', lineWidth: 2, fill: null } },
          { type: 'text', x: (a[0] + b[0]) / 2, y: ns ? a[1] - 13 : a[1] - 4,
            style: { text: lbl, fontFamily: FONT, fontSize: ns ? 20 : 28, fontStyle: ns ? 'italic' : 'normal',
              fill: '#333', align: 'center', verticalAlign: 'middle' } }
        ]
      };
    }
  };
}

function panelSeries(xi, yi, segs, brackets, labels) {
  const out = [];
  segs.forEach(function (s, si) {
    s.traces.forEach(function (tr, ti) {
      const ser = {
        type: 'line', xAxisIndex: xi, yAxisIndex: yi, silent: true, z: 2,
        symbol: 'none', showSymbol: false,
        data: tr.map((v, i) => [s.start + s.t[i], v]),
        lineStyle: { width: 1.3, color: palette[s.colors[ti]] }
      };
      if (si === 0 && ti === 0) {
        ser.markLine = {
          silent: true, symbol: ['none', 'none'], label: { show: false },
          lineStyle: { type: 'dotted', color: '#444', width: 1 },
          data: separators.map(x => ({ xAxis: x }))
        };
      }
      out.push(ser);
    });
    const dense = s.kind === 'dense';
    out.push({
      type: 'line', xAxisIndex: xi, yAxisIndex: yi, silent: true, z: 5,
      data: s.mean.map((v, i) => [s.start + s.t[i], v]),
      symbol: dense ? (s.color === C_BLUE ? 'rect' : 'circle') : 'circle',
      symbolSize: dense ? 8 : 10,
      showSymbol: true,
      lineStyle: { width: dense ? 6 : 3.5, color: s.color },
      itemStyle: { color: s.color }
    });
    out.push(errorBars(xi, yi, s));
  });
  out.push(bracketSeries(xi, yi, brackets, labels));
  return out;
}

const axisLine = { show: true, lineStyle: { color: '#222', width: 1.5 } };
function valueX(grid, showLabels) {
  return {
    gridIndex: grid, type: 'value', min: 0, max: 420, interval: 60,
    axisLine: Object.assign({ onZero: false }, axisLine),
    axisTick: { show: true, length: 7, lineStyle: { color: '#222', width: 1.5 } },
    minorTick: { show: true, splitNumber: 6, length: 5, lineStyle: { color: '#222', width: 1.5 } },
    splitLine: { show: false },
    axisLabel: { show: showLabels, fontFamily: FONT, fontSize: 22, color: '#222', margin: 6 },
    name: showLabels ? 'Time [s]' : '', nameLocation: 'middle', nameGap: 41,
    nameTextStyle: { fontFamily: FONT, fontSize: 23, color: '#222' }
  };
}
function valueY(grid) {
  return {
    gridIndex: grid, type: 'value', min: 0, max: 6, interval: 2,
    axisLine: axisLine,
    axisTick: { show: true, length: 7, lineStyle: { color: '#222', width: 1.5 } },
    minorTick: { show: true, splitNumber: 2, length: 5, lineStyle: { color: '#222', width: 1.5 } },
    splitLine: { show: false },
    axisLabel: { fontFamily: FONT, fontSize: 22, color: '#222', margin: 9 },
    name: 'Decay time [ms]', nameLocation: 'middle', nameGap: 46,
    nameTextStyle: { fontFamily: FONT, fontSize: 25, color: '#222' }
  };
}

const rich = {};
headers.forEach((h, i) => { rich['h' + i] = { color: headerColors[i], fontSize: 30, fontFamily: FONT }; });

const option = {
  backgroundColor: '#fff',
  animation: false,
  grid: [
    { left: 95, right: 27, top: 49, height: 241 },
    { left: 95, right: 27, top: 330, height: 242 }
  ],
  xAxis: [
    valueX(0, false),
    {
      gridIndex: 0, type: 'category', position: 'top', data: headers,
      axisLine: axisLine, axisTick: { show: false }, splitLine: { show: false },
      axisLabel: { interval: 0, margin: 3, formatter: (v, i) => '{h' + i + '|' + v + '}', rich: rich }
    },
    valueX(1, true)
  ],
  yAxis: [valueY(0), valueY(1)],
  graphic: [
    { type: 'text', left: 8, top: 36, style: { text: 'A', fontFamily: FONT, fontSize: 42, fill: '#333' } },
    { type: 'text', left: 8, top: 314, style: { text: 'B', fontFamily: FONT, fontSize: 42, fill: '#333' } },
    { type: 'text', left: 105, top: 54, style: { text: 'WT', fontFamily: FONT, fontSize: 27, fill: '#111' } },
    { type: 'text', left: 106, top: 334, style: { text: 'KO', fontFamily: FONT, fontSize: 27, fill: '#e8141c' } }
  ],
  series: [].concat(
    panelSeries(0, 0, wtSegs, wtBrackets, wtBracketLabels),
    panelSeries(2, 1, koSegs, koBrackets, koBracketLabels)
  )
};

const chart = echarts.init(document.getElementById('chart'));
chart.setOption(option);

// "n.d." in the empty 200 Hz segment
const ndA = chart.convertToPixel({ xAxisIndex: 0, yAxisIndex: 0 }, [330, 2.74]);
const ndB = chart.convertToPixel({ xAxisIndex: 2, yAxisIndex: 1 }, [330, 2.03]);
chart.setOption({
  graphic: option.graphic.concat([
    { type: 'text', x: ndA[0], y: ndA[1], style: { text: 'n.d.', fontFamily: FONT, fontSize: 17, fill: '#222', align: 'center', verticalAlign: 'middle' } },
    { type: 'text', x: ndB[0], y: ndB[1], style: { text: 'n.d.', fontFamily: FONT, fontSize: 17, fill: '#222', align: 'center', verticalAlign: 'middle' } }
  ])
});
</script>
</body>
</html>
